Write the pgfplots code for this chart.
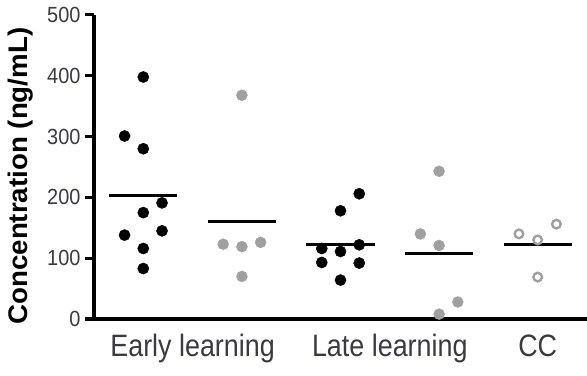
\documentclass[border=0pt]{standalone}
\usepackage{fontspec}
\setmainfont{Liberation Sans}
\usepackage{pgfplots}
\pgfplotsset{compat=1.18}
\definecolor{dotgray}{RGB}{160,160,160}
\definecolor{txtgray}{RGB}{58,58,64}
\begin{document}
\begin{tikzpicture}
\useasboundingbox (0,0) rectangle (587bp,376bp);
\begin{axis}[
  at={(94bp,57bp)}, anchor=south west,
  width=493bp, height=304bp, scale only axis,
  xmin=-0.5, xmax=4.5, ymin=0, ymax=500,
  axis x line*=bottom, axis y line*=left,
  axis line style={-, line width=3bp, black},
  ytick={0,100,...,500},
  xtick={0.5,2.5,4},
  xticklabels={\scalebox{1}[1.15]{Early learning}, \scalebox{1}[1.15]{Late learning}, \scalebox{1}[1.15]{CC}},
  x tick style={draw=none},
  y tick style={line width=3bp, black},
  tick align=outside, major tick length=9bp,
  /pgf/number format/assume math mode=true,
  yticklabel style={font=\fontsize{20}{24}\selectfont, text=txtgray, xshift=-1bp},
  yticklabel={\scalebox{1}[1.1]{\pgfmathprintnumber{\tick}}},
  xticklabel style={font=\fontsize{27}{32}\selectfont, text=txtgray, yshift=-3bp},
  every axis y label/.style={at={(axis description cs:-0.148,0.47)}, rotate=90, anchor=center},
  ylabel={\fontsize{27}{30}\selectfont\bfseries\scalebox{1.03}[1]{Concentration (ng/mL)}},
  clip=false,
]
% Early learning (black)
\addplot[only marks, mark=*, mark size=5.6bp, mark options={fill=black, draw=black}] coordinates {
 (0,398) (-0.19,301) (0,280) (0.19,191) (0,175) (0.19,145) (-0.19,138) (0,116) (0,83)};
% Early learning (gray)
\addplot[only marks, mark=*, mark size=5.5bp, mark options={fill=dotgray, draw=dotgray}] coordinates {
 (1,368) (0.81,123) (1,119) (1.19,126) (1,70)};
% Late learning (black)
\addplot[only marks, mark=*, mark size=5.6bp, mark options={fill=black, draw=black}] coordinates {
 (2.19,206) (2,178) (2.19,122) (1.81,116) (2,111) (1.81,93) (2.19,92) (2,64)};
% Late learning (gray)
\addplot[only marks, mark=*, mark size=5.5bp, mark options={fill=dotgray, draw=dotgray}] coordinates {
 (3,243) (2.81,140) (3,121) (3.19,28) (3,8)};
% CC (open gray)
\addplot[only marks, mark=o, mark size=4.3bp, mark options={draw=dotgray, fill=white, line width=2.4bp}] coordinates {
 (3.81,140) (4,130) (4.19,156) (4,69)};
% means
\addplot[black, line width=3.2bp] coordinates {(-0.345,203) (0.345,203)};
\addplot[black, line width=3.2bp] coordinates {(0.655,161) (1.345,161)};
\addplot[black, line width=3.2bp] coordinates {(1.655,123) (2.345,123)};
\addplot[black, line width=3.2bp] coordinates {(2.655,108) (3.345,108)};
\addplot[black, line width=3.2bp] coordinates {(3.655,123) (4.345,123)};
\end{axis}
\end{tikzpicture}
\end{document}
